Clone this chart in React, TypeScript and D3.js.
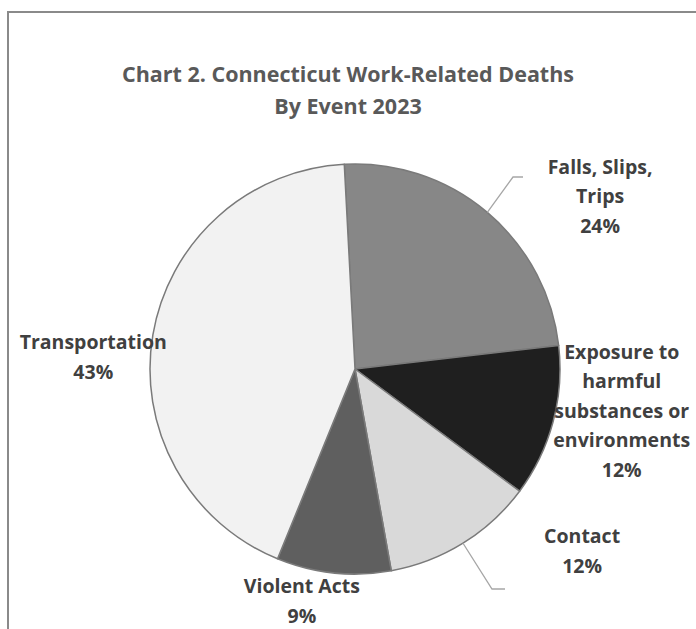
import React, { useEffect, useRef } from 'react';
import * as d3 from 'd3';

const categories = ['Falls, Slips, Trips', 'Exposure to harmful substances or environments', 'Contact', 'Violent Acts', 'Transportation'];
const shares = [24, 12, 12, 9, 43];
const fills = ['#878787', '#1f1f1f', '#d9d9d9', '#5f5f5f', '#f2f2f2'];
// label lines as drawn in the reference (wrapped by hand)
const labelLines = [
  ['Falls, Slips,', 'Trips', '24%'],
  ['Exposure to', 'harmful', 'substances or', 'environments', '12%'],
  ['Contact', '12%'],
  ['Violent Acts', '9%'],
  ['Transportation', '43%'],
];
const titleLines = ['Chart 2. Connecticut Work-Related Deaths', 'By Event 2023'];

const W = 696;
const H = 629;

export default function App() {
  const ref = useRef<SVGSVGElement | null>(null);

  useEffect(() => {
    if (!ref.current) return;
    const svg = d3.select(ref.current);
    svg.selectAll('*').remove();

    // chart frame (only left + top edge are visible in the crop)
    svg.append('path')
      .attr('d', `M8,${H} V12 H${W}`)
      .attr('fill', 'none')
      .attr('stroke', '#8a8a8a')
      .attr('stroke-width', 2);

    const font = '"Open Sans", sans-serif';

    svg.append('g')
      .selectAll('text')
      .data(titleLines)
      .enter()
      .append('text')
      .attr('x', 348)
      .attr('y', (d, i) => 82 + i * 32)
      .attr('text-anchor', 'middle')
      .style('font-family', font)
      .style('font-weight', 'bold')
      .style('font-size', '21.5px')
      .style('fill', '#595959')
      .text(d => d);

    const cx = 355;
    const cy = 369;
    const radius = 205;
    const start = -3 * Math.PI / 180;

    const data = categories.map((c, i) => ({ name: c, value: shares[i], i }));
    const pie = d3.pie<any>()
      .value(d => d.value)
      .sort(null)
      .startAngle(start)
      .endAngle(start + 2 * Math.PI);
    const arc = d3.arc<any>().innerRadius(0).outerRadius(radius);

    const g = svg.append('g').attr('transform', `translate(${cx},${cy})`);
    const arcs = pie(data);

    g.selectAll('path.slice')
      .data(arcs)
      .enter()
      .append('path')
      .attr('class', 'slice')
      .attr('d', arc)
      .attr('fill', d => fills[d.data.i])
      .attr('stroke', '#7a7a7a')
      .attr('stroke-width', 1.5)
      .attr('stroke-linejoin', 'round');

    // label block centres, polar around the pie centre (deg clockwise from top, distance)
    const labelPos = [
      { ang: 54.8, r: 300 },
      { ang: 98.9, r: 270 },
      { ang: 128.7, r: 291 },
      { ang: 192.9, r: 238 },
      { ang: 272.6, r: 262 },
    ];
    const lineH = 29.5;
    labelLines.forEach((lines, i) => {
      const p = labelPos[i];
      const a = p.ang * Math.PI / 180;
      const lx = cx + Math.sin(a) * p.r;
      const ly = cy - Math.cos(a) * p.r;
      const top = ly - ((lines.length - 1) * lineH) / 2;
      const t = svg.append('text')
        .attr('text-anchor', 'middle')
        .style('font-family', font)
        .style('font-weight', 'bold')
        .style('font-size', '19.5px')
        .style('fill', '#404040');
      lines.forEach((ln, j) => {
        t.append('tspan')
          .attr('x', lx)
          .attr('y', top + j * lineH + 7)
          .text(ln);
      });
    });

    // leader lines
    const leader = (pts: [number, number][]) => {
      svg.append('path')
        .attr('d', d3.line()(pts))
        .attr('fill', 'none')
        .attr('stroke', '#a6a6a6')
        .attr('stroke-width', 1.3);
    };
    const edgePt = (deg: number): [number, number] => {
      const a = deg * Math.PI / 180;
      return [cx + Math.sin(a) * radius, cy - Math.cos(a) * radius];
    };
    const fMid = (arcs[0].startAngle + arcs[0].endAngle) / 2 * 180 / Math.PI;
    const cMid = (arcs[2].startAngle + arcs[2].endAngle) / 2 * 180 / Math.PI;
    leader([edgePt(fMid), [513, 177], [523, 177]]);
    leader([edgePt(cMid), [492, 589], [505, 589]]);
  }, []);

  return (
    <svg ref={ref} width={W} height={H} style={{ position: 'absolute', left: 0, top: 0, background: '#fff' }} />
  );
}
